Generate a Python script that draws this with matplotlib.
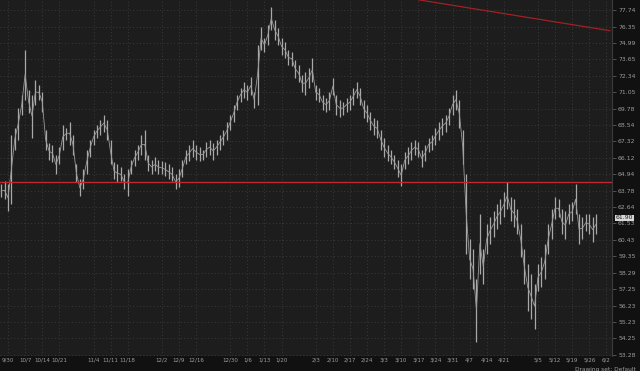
import matplotlib.pyplot as plt
import numpy as np
import pandas as pd
from matplotlib.ticker import NullLocator
from matplotlib.transforms import blended_transform_factory

# daily sessions starting here (business days)
first_session = "2024-09-26"

highs = [64.22, 64.43, 64.22, 67.82, 68.34, 69.85, 70.85, 74.42, 71.23, 70.85,
         72.02, 71.62, 71.08, 68.19, 67.23, 67.08, 66.35, 66.94, 68.57, 68.34,
         68.79, 67.82, 65.64, 64.57, 65.28, 66.72, 67.45, 68.19, 68.57, 68.94,
         69.32, 68.94, 67.45, 65.78, 65.64, 65.42, 64.92, 65.28, 65.99, 66.72,
         67.08, 67.82, 68.19, 66.35, 65.99, 66.14, 65.99, 65.85, 65.78, 65.64,
         65.42, 64.92, 65.28, 65.99, 66.72, 67.08, 67.45, 67.08, 66.87, 66.72,
         67.30, 67.45, 67.23, 67.45, 67.82, 68.19, 68.79, 69.32, 70.08, 70.85,
         71.39, 71.86, 71.62, 72.26, 71.08, 74.83, 76.31, 75.40, 76.47, 78.00,
         76.89, 76.23, 75.40, 75.08, 74.42, 74.26, 73.61, 73.21, 72.41, 72.65,
         72.97, 73.77, 71.62, 71.39, 70.85, 70.61, 71.08, 72.18, 70.85, 70.46,
         70.31, 70.61, 70.85, 71.39, 71.86, 71.39, 70.46, 70.08, 69.55, 69.09,
         68.94, 68.19, 67.60, 67.08, 66.72, 66.35, 65.99, 65.64, 66.57, 66.87,
         67.30, 67.45, 67.30, 66.72, 67.08, 67.60, 67.82, 68.34, 68.79, 69.09,
         69.32, 69.85, 70.85, 71.23, 70.46, 68.19, 64.92, 60.47, 59.82, 57.89,
         62.15, 59.82, 61.48, 61.95, 62.35, 62.83, 63.17, 63.66, 64.36, 63.31,
         63.17, 62.49, 61.48, 59.82, 58.85, 58.21, 57.58, 58.85, 59.30, 60.15,
         61.48, 62.49, 63.31, 63.17, 62.49, 62.35, 62.83, 62.97, 64.22, 62.15,
         61.95, 62.15, 62.15, 61.95, 62.15]

lows = [63.31, 63.17, 62.35, 62.83, 66.72, 67.45, 69.32, 70.46, 69.47, 67.60,
        70.08, 70.46, 69.55, 66.72, 65.99, 65.78, 64.92, 65.64, 66.72, 67.45,
        67.08, 66.35, 64.36, 63.38, 63.87, 64.92, 66.21, 67.08, 67.60, 67.82,
        68.04, 67.45, 65.64, 64.57, 64.36, 64.43, 63.87, 63.38, 64.92, 65.49,
        65.99, 66.35, 65.99, 65.14, 64.92, 65.14, 64.92, 64.92, 64.78, 64.57,
        64.43, 63.87, 64.01, 64.71, 65.64, 65.85, 66.14, 65.99, 65.85, 65.99,
        66.14, 66.35, 65.99, 66.35, 66.72, 67.08, 67.45, 68.19, 68.79, 69.70,
        70.31, 70.61, 70.46, 70.85, 69.85, 70.08, 74.42, 74.26, 74.83, 76.06,
        75.24, 74.83, 74.02, 73.77, 73.21, 73.13, 72.18, 71.86, 71.08, 70.85,
        71.39, 71.86, 70.46, 70.31, 69.70, 69.55, 69.70, 70.85, 69.32, 69.17,
        69.32, 69.55, 69.70, 70.08, 70.61, 70.08, 69.09, 68.79, 68.19, 67.82,
        67.60, 66.72, 66.14, 65.85, 65.64, 65.28, 64.71, 64.08, 65.28, 65.64,
        65.99, 66.35, 66.14, 65.42, 65.85, 66.57, 66.72, 67.08, 67.45, 67.82,
        68.04, 68.57, 69.32, 69.70, 68.34, 65.64, 59.50, 57.89, 57.26, 54.04,
        58.21, 57.58, 59.50, 60.15, 60.60, 61.14, 61.48, 61.95, 62.49, 61.68,
        61.27, 60.81, 59.30, 57.58, 55.90, 55.42, 54.81, 57.14, 57.39, 57.89,
        59.50, 60.47, 61.81, 61.95, 60.81, 60.47, 61.48, 61.68, 62.15, 60.15,
        60.47, 61.01, 60.81, 60.28, 60.81]

last_price = 61.90
support_level = 64.36
trend_dates = ["2025-03-17", "2025-06-03"]
trend_prices = [78.62, 76.00]

price_ticks = [53.28, 54.25, 55.23, 56.23, 57.25, 58.29, 59.35, 60.43, 61.53,
               62.64, 63.78, 64.94, 66.12, 67.32, 68.54, 69.78, 71.05, 72.34,
               73.65, 74.99, 76.35, 77.74]

date_ticks = ["2024-09-30", "2024-10-07", "2024-10-14", "2024-10-21", "2024-11-04",
              "2024-11-11", "2024-11-18", "2024-12-02", "2024-12-09", "2024-12-16",
              "2024-12-30", "2025-01-06", "2025-01-13", "2025-01-20", "2025-02-03",
              "2025-02-10", "2025-02-17", "2025-02-24", "2025-03-03", "2025-03-10",
              "2025-03-17", "2025-03-24", "2025-03-31", "2025-04-07", "2025-04-14",
              "2025-04-21", "2025-05-05", "2025-05-12", "2025-05-19", "2025-05-26",
              "2025-06-02"]
date_labels = ["9/30", "10/7", "10/14", "10/21", "11/4", "11/11", "11/18", "12/2",
               "12/9", "12/16", "12/30", "1/6", "1/13", "1/20", "2/3", "2/10", "2/17",
               "2/24", "3/3", "3/10", "3/17", "3/24", "3/31", "4/7", "4/14", "4/21",
               "5/5", "5/12", "5/19", "5/26", "6/2"]

sessions = pd.bdate_range(first_session, periods=200)
def pos(d):
    return sessions.get_loc(pd.Timestamp(d))

x = np.arange(len(highs))
hi = np.array(highs)
lo = np.array(lows)

fig = plt.figure(figsize=(6.4, 3.71), dpi=100, facecolor='#111111')
ax = fig.add_axes([0, 0.041, 0.956, 0.959])
ax.set_facecolor('#1d1d1d')

ax.vlines(x, lo, hi, color='#a9a9a9', lw=0.9)
ax.plot(x, (hi + lo) / 2, color='#9a9a9a', lw=0.6)

ax.axhline(support_level, color='#c1272d', lw=1.0)
ax.plot([pos(d) for d in trend_dates], trend_prices, color='#a32025', lw=0.9)

ax.set_yscale('log')
ax.set_ylim(53.22, 78.60)
ax.set_xlim(-0.35, 178.6)
ax.yaxis.set_minor_locator(NullLocator())
ax.set_yticks(price_ticks)
ax.set_yticklabels([f"{p:.2f}" for p in price_ticks])
ax.yaxis.tick_right()
ax.set_xticks([pos(d) for d in date_ticks])
ax.set_xticklabels(date_labels)

ax.tick_params(axis='y', labelsize=4.4, length=3, width=0.5, color='#6a6a6a', pad=1.5)
ax.tick_params(axis='x', labelsize=4.0, length=0, pad=1.5)
for lab in ax.get_yticklabels() + ax.get_xticklabels():
    lab.set_color('#9c9c9c')

ax.grid(True, color='#3a3a3a', linestyle=(0, (1, 2.5)), lw=0.7)
for s in ['top', 'left', 'bottom']:
    ax.spines[s].set_visible(False)
ax.spines['right'].set_color('#3c3c3c')
ax.spines['right'].set_linewidth(0.8)

trans = blended_transform_factory(ax.transAxes, ax.transData)
ax.text(1.006, last_price, f"{last_price:.2f}", transform=trans, fontsize=4.4,
        color='#1a1a1a', va='center', ha='left',
        bbox=dict(boxstyle='square,pad=0.15', fc='#d8d8d8', ec='none'))

fig.text(0.993, -0.004, "Drawing set: Default", color='#9c9c9c', fontsize=4.2,
         ha='right', va='bottom')

plt.savefig("out.png", dpi=100, facecolor=fig.get_facecolor())
